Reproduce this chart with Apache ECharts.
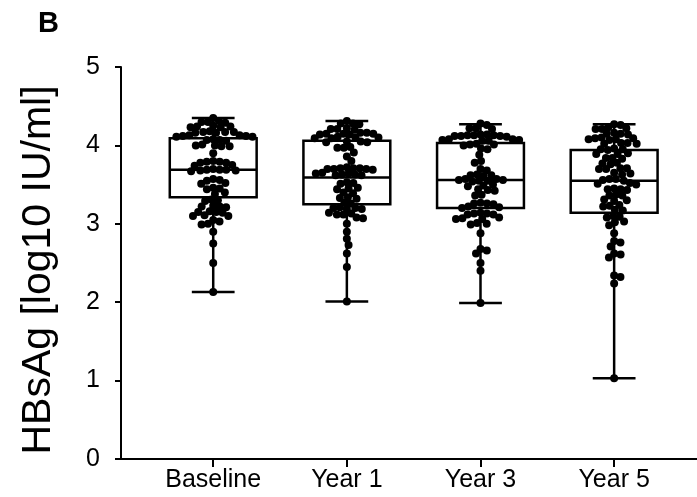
<!DOCTYPE html>
<html>
<head>
<meta charset="utf-8">
<script src="https://cdn.jsdelivr.net/npm/echarts@6/dist/echarts.min.js"></script>
<style>
  html, body { margin: 0; padding: 0; background: #ffffff; }
  #chart { width: 697px; height: 497px; }
</style>
</head>
<body>
<div id="chart"></div>
<script>
// Time points and y-axis ticks
const categories = ['Baseline', 'Year 1', 'Year 3', 'Year 5'];
const yTicks = [0, 1, 2, 3, 4, 5];

// Box-and-whisker summary (min to max whiskers), log10 IU/ml
const boxMin = [2.13, 2.01, 1.99, 1.03];
const boxQ1  = [3.34, 3.25, 3.20, 3.14];
const boxMed = [3.69, 3.59, 3.56, 3.55];
const boxQ3  = [4.09, 4.06, 4.03, 3.94];
const boxMax = [4.35, 4.31, 4.27, 4.27];

// Individual patient HBsAg levels per time point
const baseline = [
  4.35,
  4.31, 4.30, 4.30, 4.29,
  4.25, 4.24, 4.24, 4.23, 4.23,
  4.18, 4.17, 4.17, 4.17, 4.16, 4.16,
  4.13, 4.13, 4.12, 4.12, 4.11, 4.11,
  4.08, 4.07, 4.07, 4.06,
  4.01, 4.00, 4.00, 3.99, 3.99,
  3.90,
  3.80, 3.79, 3.79, 3.78, 3.78,
  3.75, 3.74,
  3.70, 3.69, 3.69, 3.69, 3.68, 3.68, 3.67,
  3.57, 3.56, 3.55,
  3.52, 3.51,
  3.46, 3.45, 3.44,
  3.40, 3.38,
  3.31, 3.30, 3.29,
  3.23, 3.22, 3.22, 3.21,
  3.16, 3.15, 3.15, 3.14,
  3.11, 3.10, 3.10,
  3.05, 3.03,
  3.00, 2.99,
  2.90, 2.75, 2.50, 2.13
];
const year1 = [
  4.31,
  4.28, 4.28, 4.27,
  4.22, 4.21, 4.21, 4.20,
  4.16, 4.16, 4.15, 4.15, 4.15, 4.14, 4.14,
  4.11, 4.10, 4.10, 4.09, 4.09,
  4.05, 4.05, 4.04, 4.04,
  3.98, 3.97, 3.97,
  3.91, 3.86, 3.80,
  3.72, 3.71, 3.71, 3.71, 3.70, 3.70, 3.70, 3.69,
  3.65, 3.64, 3.64, 3.63, 3.63, 3.62, 3.62,
  3.53, 3.52, 3.51,
  3.46, 3.45, 3.44,
  3.40, 3.39,
  3.34, 3.33, 3.32,
  3.27, 3.26,
  3.21, 3.20, 3.20, 3.19, 3.19,
  3.14, 3.13, 3.12, 3.12,
  3.08, 3.07,
  3.00, 2.90, 2.81, 2.73, 2.62, 2.45, 2.01
];
const year3 = [
  4.28, 4.26,
  4.22, 4.22, 4.21,
  4.14, 4.14, 4.13, 4.13, 4.13, 4.12, 4.12, 4.12, 4.11,
  4.08, 4.08, 4.07, 4.07, 4.06, 4.06,
  4.02, 4.01, 4.01, 4.00,
  3.96, 3.95,
  3.88,
  3.80, 3.78,
  3.70, 3.68,
  3.63, 3.62, 3.62, 3.61,
  3.57, 3.57, 3.56, 3.56, 3.55, 3.55, 3.54,
  3.50, 3.49, 3.48,
  3.44, 3.43, 3.42,
  3.37, 3.36,
  3.27, 3.26, 3.26, 3.25,
  3.22, 3.21, 3.20,
  3.14, 3.13, 3.13, 3.12, 3.12,
  3.08, 3.07, 3.06, 3.06,
  3.01, 3.00, 2.99,
  2.88, 2.68, 2.66, 2.62, 2.50, 2.40, 1.99
];
const year5 = [
  4.27, 4.26,
  4.23, 4.22, 4.21, 4.21,
  4.16, 4.15, 4.15, 4.14,
  4.10, 4.09, 4.09, 4.08, 4.08, 4.07,
  4.03, 4.03, 4.02, 4.02,
  3.96, 3.95, 3.95, 3.94,
  3.90, 3.89, 3.89,
  3.84, 3.84, 3.83,
  3.78, 3.77, 3.76,
  3.71, 3.71, 3.70, 3.70,
  3.65, 3.64, 3.63,
  3.57, 3.57, 3.56, 3.55,
  3.52, 3.51, 3.50,
  3.45, 3.44, 3.44, 3.43,
  3.37, 3.36, 3.36,
  3.31, 3.30, 3.29,
  3.24, 3.23, 3.22,
  3.18, 3.17,
  3.10, 3.09, 3.08,
  3.03, 3.02,
  2.98, 2.88, 2.78, 2.76, 2.71, 2.62, 2.61, 2.57,
  2.34, 2.32, 2.24, 1.03
];
const groups = [baseline, year1, year3, year5];

const FONT = '"Liberation Sans", Arial, Helvetica, sans-serif';
const positions = categories.map((_, i) => i + 1);
const boxData = positions.map((p, i) => [p, boxMin[i], boxQ1[i], boxMed[i], boxQ3[i], boxMax[i]]);

const BOX_W = 0.65;   // box width in x units
const CAP_W = 0.32;   // whisker cap width in x units
const DOT = 8;        // dot diameter in px
const SPACING = 6.5;  // minimum centre distance between neighbouring dots (dots overlap slightly)
const LW = 2.5;       // box and whisker stroke width

function renderBox(params, api) {
  const x = api.value(0);
  const pMin = api.coord([x, api.value(1)]);
  const pQ1 = api.coord([x, api.value(2)]);
  const pMed = api.coord([x, api.value(3)]);
  const pQ3 = api.coord([x, api.value(4)]);
  const pMax = api.coord([x, api.value(5)]);
  const bw = api.size([BOX_W, 0])[0];
  const cw = api.size([CAP_W, 0])[0];
  const line = { stroke: '#000', lineWidth: LW };
  const cx = pMin[0];
  return {
    type: 'group',
    children: [
      { type: 'line', shape: { x1: cx, y1: pMin[1], x2: cx, y2: pMax[1] }, style: line },
      { type: 'line', shape: { x1: cx - cw / 2, y1: pMin[1], x2: cx + cw / 2, y2: pMin[1] }, style: line },
      { type: 'line', shape: { x1: cx - cw / 2, y1: pMax[1], x2: cx + cw / 2, y2: pMax[1] }, style: line },
      { type: 'rect', shape: { x: cx - bw / 2, y: pQ3[1], width: bw, height: pQ1[1] - pQ3[1] },
        style: { stroke: '#000', lineWidth: LW, fill: '#fff' } },
      { type: 'line', shape: { x1: cx - bw / 2, y1: pMed[1], x2: cx + bw / 2, y2: pMed[1] }, style: line }
    ]
  };
}

// Beeswarm layout: place each dot as close to the centre as possible without overlap
function swarm(pys, d) {
  const order = pys.map((_, i) => i).sort((a, b) => pys[a] - pys[b]);
  const placed = [];
  const out = new Array(pys.length).fill(0);
  for (const i of order) {
    const y = pys[i];
    const near = placed.filter(p => Math.abs(p.y - y) < d);
    const cands = [0];
    near.forEach(p => {
      const dx = Math.sqrt(d * d - (p.y - y) * (p.y - y));
      cands.push(p.x + dx, p.x - dx);
    });
    cands.sort((a, b) => Math.abs(a) - Math.abs(b));
    for (const c of cands) {
      if (near.every(p => (p.x - c) * (p.x - c) + (p.y - y) * (p.y - y) >= d * d - 1e-6)) {
        out[i] = c;
        placed.push({ x: c, y: y });
        break;
      }
    }
  }
  return out;
}

const chart = echarts.init(document.getElementById('chart'), null, { renderer: 'canvas' });

const axisLine = { lineStyle: { color: '#000', width: 2 } };
const option = {
  animation: false,
  backgroundColor: '#fff',
  title: {
    text: 'B', left: 38, top: 9, padding: 0,
    textStyle: { fontFamily: FONT, fontSize: 29, fontWeight: 'bold', color: '#000' }
  },
  grid: { left: 121, right: 0, top: 67, bottom: 38, containLabel: false },
  xAxis: {
    type: 'value', min: 0.31, max: 4.62,
    splitLine: { show: false },
    axisLine: Object.assign({ onZero: false }, axisLine),
    axisTick: { show: true, customValues: positions, length: 8, lineStyle: { color: '#000', width: 2 } },
    axisLabel: {
      customValues: positions, margin: 9,
      formatter: v => categories[Math.round(v) - 1],
      fontFamily: FONT, fontSize: 25, color: '#000'
    }
  },
  yAxis: {
    type: 'value', min: yTicks[0], max: yTicks[yTicks.length - 1], interval: 1,
    name: 'HBsAg [log10 IU/ml]', nameLocation: 'middle', nameGap: 62, nameRotate: 90,
    nameTextStyle: { fontFamily: FONT, fontSize: 41, color: '#000', padding: [0, 14, 0, 0] },
    splitLine: { show: false },
    axisLine: Object.assign({ onZero: false }, axisLine),
    axisTick: { show: true, length: 6, lineStyle: { color: '#000', width: 2 } },
    axisLabel: { margin: 21, fontFamily: FONT, fontSize: 25, color: '#000' }
  },
  series: [
    {
      id: 'boxes', type: 'custom', renderItem: renderBox, data: boxData,
      encode: { x: 0, y: [1, 2, 3, 4, 5] }, z: 2, silent: true
    },
    {
      id: 'dots', type: 'scatter', data: [], symbol: 'circle', symbolSize: DOT,
      itemStyle: { color: '#000', opacity: 1 }, z: 3, silent: true
    }
  ]
};
chart.setOption(option);

const unitPx = chart.convertToPixel({ gridIndex: 0 }, [2, 0])[0] - chart.convertToPixel({ gridIndex: 0 }, [1, 0])[0];
const dots = [];
groups.forEach((vals, gi) => {
  const pys = vals.map(v => chart.convertToPixel({ gridIndex: 0 }, [positions[gi], v])[1]);
  const dx = swarm(pys, SPACING);
  vals.forEach((v, k) => dots.push([positions[gi] + dx[k] / unitPx, v]));
});
chart.setOption({ series: [{ id: 'dots', data: dots }] });
</script>
</body>
</html>
